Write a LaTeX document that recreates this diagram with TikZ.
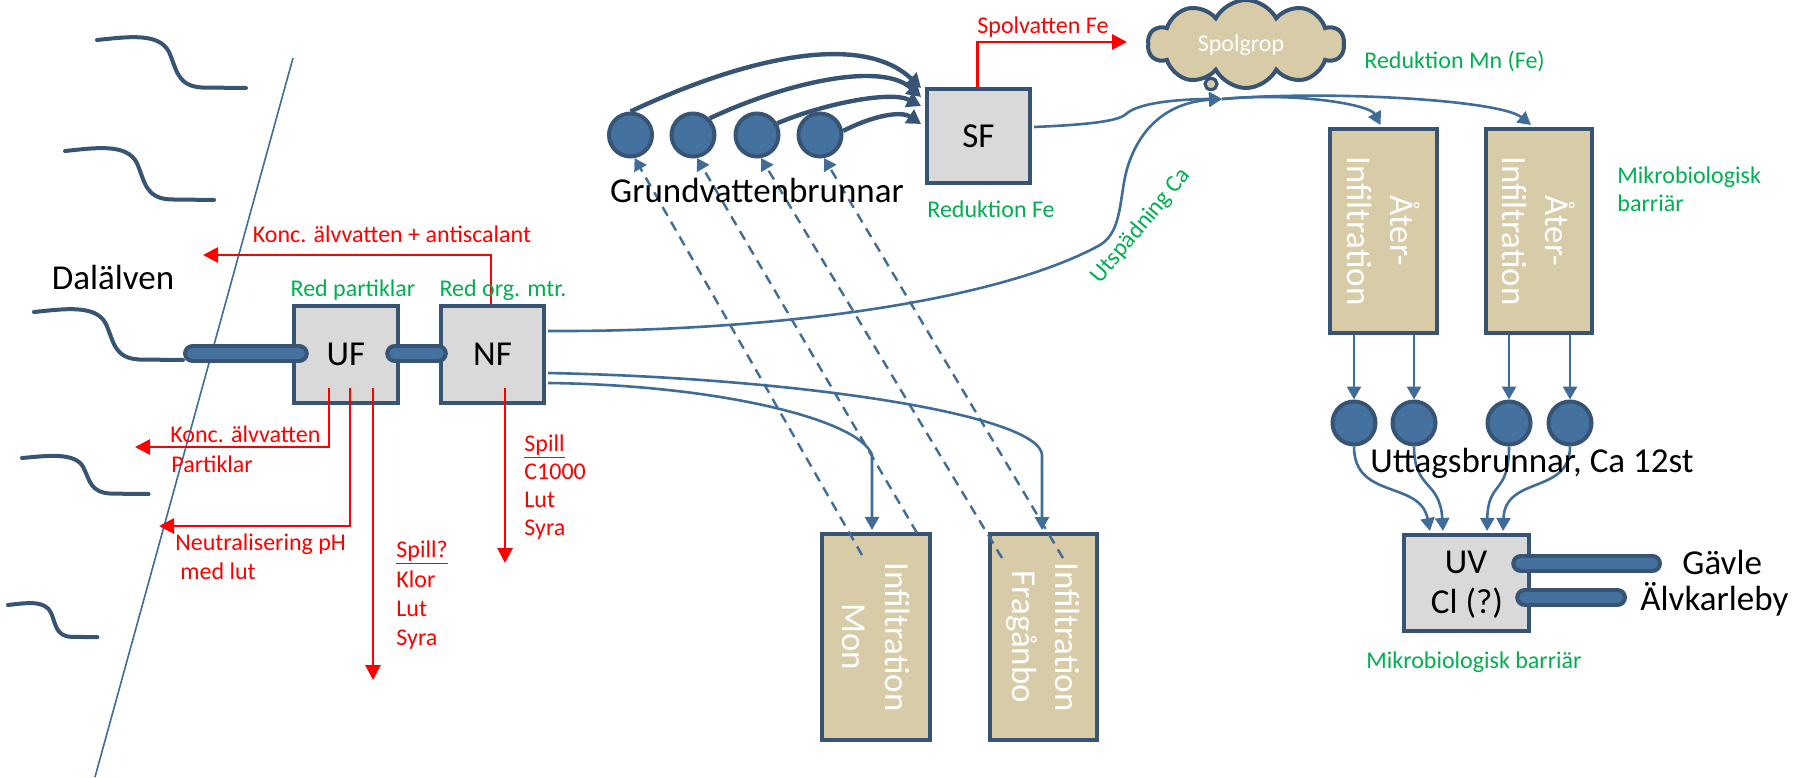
\documentclass[tikz,border=0pt]{standalone}
\usepackage{fontspec}
\setmainfont{Carlito}
\usetikzlibrary{arrows.meta,shapes.symbols,calc}
\definecolor{darkb}{RGB}{56,84,116}
\definecolor{wellfill}{RGB}{68,113,158}
\definecolor{conn}{RGB}{64,108,152}
\definecolor{boxfill}{RGB}{217,217,217}
\definecolor{tanfill}{RGB}{216,203,167}
\definecolor{grn}{RGB}{0,176,80}
\definecolor{rd}{RGB}{255,0,0}
\begin{document}
\begin{tikzpicture}[x=0.5pt,y=-0.5pt,
  box/.style={draw=darkb, line width=2.2pt, fill=boxfill, inner sep=0pt},
  tanbox/.style={draw=darkb, line width=2.2pt, fill=tanfill, inner sep=0pt},
  well/.style={circle, draw=darkb, line width=2pt, fill=wellfill, minimum size=21.5pt, inner sep=0pt},
  big/.style={font=\fontsize{17.5}{21.5}\selectfont, inner sep=0pt},
  small/.style={font=\fontsize{12}{14.5}\selectfont, inner sep=0pt},
  redtxt/.style={small, text=rd},
  grntxt/.style={small, text=grn},
  whitetxt/.style={big, text=white, rotate=-90, align=center},
  wavey/.style={draw=darkb, line width=2pt, line cap=round},
  shore/.style={draw=conn, line width=0.8pt},
  pipe/.style={draw=darkb, line width=2pt, double=wellfill, double distance=5.5pt, line cap=round},
  redflow/.style={draw=rd, line width=1.4pt, -{Triangle[length=7.5pt,width=7.5pt]}},
  thinflow/.style={draw=conn, line width=1.3pt, -{Triangle[length=6.5pt,width=7pt]}},
  thickflow/.style={draw=darkb, line width=2.2pt, -{Triangle[length=7pt,width=8pt]}},
  dashflow/.style={draw=conn, line width=1.2pt, dash pattern=on 5pt off 3.5pt, -{Triangle[length=6pt,width=7pt]}}
]
\fill[white] (0,0) rectangle (1808,777);
\useasboundingbox (0,0) rectangle (1808,777);

% shore line and waves
\coordinate (shT) at (293,58);
\coordinate (shB) at (95,777);
\draw[shore] (shT) -- (shB);
\foreach \sx/\sy/\xs/\ys in {97/40/1/1, 65/151/1/1.02, 34/312/1/1, 22/458/0.85/0.75, 8/605/0.6/0.67}{
  \begin{scope}[shift={(\sx,\sy)}, xscale=\xs, yscale=\ys]
    \draw[wavey] (0,0) .. controls (30,-3) and (62,-8) .. (72,12) .. controls (80,30) and (80,46) .. (105,47.5) -- (149,48);
  \end{scope}
}

% process boxes
\node[box, big, minimum width=51.8pt, minimum height=48.3pt] (UF) at (346,354.5) {UF};
\node[box, big, minimum width=51.3pt, minimum height=48.3pt] (NF) at (492.5,354.5) {NF};
\node[box, big, minimum width=51.3pt, minimum height=46.8pt] (SF) at (978.5,136) {SF};
\node[box, minimum width=62.3pt, minimum height=47.8pt] (UV) at (1466.5,583) {};
\node[big, anchor=base] (UVt) at (1466,573) {UV};
\node[big, anchor=base] (Clt) at (1467,613) {Cl (?)};

% infiltration boxes
\node[tanbox, minimum width=53.8pt, minimum height=102.8pt] (Mon) at (876,637) {};
\node[whitetxt] (Mont) at (Mon) {Infiltration\\Mon};
\node[tanbox, minimum width=53.3pt, minimum height=102.8pt] (Frag) at (1043.5,637) {};
\node[whitetxt] (Fragt) at (Frag) {Infiltration\\Fragånbo};
\node[tanbox, minimum width=53.3pt, minimum height=101.8pt] (At1) at (1383.5,231) {};
\node[whitetxt] (At1t) at (At1) {Åter-\\Infiltration};
\node[tanbox, minimum width=52.8pt, minimum height=101.8pt] (At2) at (1539,231) {};
\node[whitetxt] (At2t) at (At2) {Åter-\\Infiltration};

% wells
\foreach \i/\x in {1/630.5,2/693,3/757,4/820} \node[well] (G\i) at (\x,135) {};
\foreach \i/\x in {1/1354,2/1414,3/1509,4/1570} \node[well] (W\i) at (\x,423) {};

% cloud
\node[cloud, cloud puffs=10, cloud puff arc=125, cloud ignores aspect, draw=darkb, line width=2pt, fill=tanfill, minimum width=98pt, minimum height=44pt, inner sep=0pt] (Spol) at (1246,44) {};
\draw[darkb, line width=1.6pt, fill=tanfill] (1211,84) ellipse [x radius=3pt, y radius=2.8pt];
\node[small, text=white, anchor=base] (Spolt) at (1241,51) {Spolgrop};

% pipes
\coordinate (p1a) at (192.5,353.5);
\draw[pipe] (p1a) -- ($(UF.west)+(7.3,-1)$);
\draw[pipe] ($(UF.east)+(-5.3,-1)$) -- ($(NF.west)+(-0.7,-1)$);
\coordinate (gavE) at (1652.5,563.5);
\coordinate (alvE) at (1617.5,597.5);
\draw[pipe] ($(UV.east)+(-10.3,-19.5)$) -- (gavE);
\draw[pipe] ($(UV.east)+(-6.3,14.5)$) -- (alvE);

% red flows
\coordinate (antiTip) at (203,255);
\coordinate (tipA) at (135,447);
\coordinate (tipB) at (159,526);
\coordinate (tipC) at (373,680);
\coordinate (tipN) at (505,563);
\coordinate (tipS) at (1127,42);
\draw[redflow] ($(NF.north)+(-1.5,0)$) |- (antiTip);
\draw[redflow] ($(UF.center)+(-17,33.5)$) |- (tipA);
\draw[redflow] ($(UF.center)+(4,33.5)$) |- (tipB);
\draw[redflow] ($(UF.center)+(27,33.5)$) -- (tipC);
\draw[redflow] ($(NF.center)+(12.5,33.5)$) -- (tipN);
\draw[redflow] ($(SF.north)+(-1,0)$) |- (tipS);

% thick arrows from groundwater wells
\draw[thickflow] (G1.north) .. controls (740,60) and (860,30) .. ($(SF.west)+(-4,-48)$);
\draw[thickflow] (G2.north east) .. controls (780,85) and (880,60) .. ($(SF.west)+(-4,-39)$);
\draw[thickflow] (G3.30) .. controls (820,105) and (890,90) .. ($(SF.west)+(-4,-30)$);
\draw[thickflow] (G4.10) .. controls (870,117) and (900,110) .. ($(SF.west)+(-4,-12)$);

% dashed returns
\coordinate (d1) at (862,555);
\coordinate (d2) at (917,533);
\coordinate (d3) at (1002,558);
\coordinate (d4) at (1063,558);
\foreach \i in {1,2,3,4} \draw[dashflow] (d\i) -- (G\i.-80);

% thin flows
\coordinate (merge) at (1222,99);
\draw[thinflow] ($(NF.east)+(2,28.5)$) .. controls (720,385) and (860,420) .. (872,455) -- ($(Mon.north)+(-4,-2)$);
\draw[thinflow] ($(NF.east)+(2,18.5)$) .. controls (800,378) and (1040,415) .. (1042,455) -- ($(Frag.north)+(-1.5,-2)$);
\draw[thinflow] ($(NF.east)+(2,-23.5)$) .. controls (780,332) and (1000,300) .. (1100,245) .. controls (1125,230) and (1118,190) .. (1130,160) .. controls (1145,120) and (1175,102) .. (merge);
\draw[thinflow] ($(SF.east)+(2,-9)$) .. controls (1080,125) and (1118,122) .. (1126,114) .. controls (1140,101) and (1190,99) .. (merge);
\draw[thinflow] (merge) .. controls (1300,92) and (1370,105) .. ($(At1.north)+(-3,-2)$);
\draw[thinflow] (merge) .. controls (1330,90) and (1500,100) .. ($(At2.north)+(-8,-2)$);
\foreach \a/\w in {At1/W1,At1/W2,At2/W3,At2/W4} \draw[thinflow] (\a.south -| \w) -- (\w.north);
\draw[thinflow] (W1.south) .. controls (1354,500) and (1420,480) .. ($(UV.north)+(-36.5,-2)$);
\draw[thinflow] (W2.south) .. controls (1414,490) and (1440,480) .. ($(UV.north)+(-23.5,-2)$);
\draw[thinflow] (W3.south) .. controls (1509,495) and (1488,480) .. ($(UV.north)+(20.5,-2)$);
\draw[thinflow] (W4.south) .. controls (1570,495) and (1505,475) .. ($(UV.north)+(36.5,-2)$);

% black labels
\node[big, anchor=base] (Dal) at (113,289) {Dalälven};
\node[big, anchor=base] (Grund) at (757,202) {Grundvattenbrunnar};
\node[big, anchor=base] (Uttag) at (1532,472) {Uttagsbrunnar, Ca 12st};
\node[big, anchor=base west] (Gav) at (1682,574) {Gävle};
\node[big, anchor=base west] (Alv) at (1640,610) {Älvkarleby};

% red labels
\node[redtxt, anchor=base] (antiL) at (392,242) {Konc. älvvatten + antiscalant};
\node[redtxt, anchor=base west] (koncL) at (170,442) {Konc. älvvatten};
\node[redtxt, anchor=base west] (partL) at (171,472) {Partiklar};
\node[redtxt, anchor=base west] (neutL) at (175,550) {Neutralisering pH};
\node[redtxt, anchor=base west] (medL) at (180,579) {med lut};
\node[redtxt, anchor=base west] (sp1) at (396,557) {\underline{Spill?}};
\node[redtxt, anchor=base west] (sp2) at (396,587) {Klor};
\node[redtxt, anchor=base west] (sp3) at (396,616) {Lut};
\node[redtxt, anchor=base west] (sp4) at (396,645) {Syra};
\node[redtxt, anchor=base west] (sn1) at (524,451) {\underline{Spill}};
\node[redtxt, anchor=base west] (sn2) at (524,479) {C1000};
\node[redtxt, anchor=base west] (sn3) at (524,507) {Lut};
\node[redtxt, anchor=base west] (sn4) at (524,535) {Syra};
\node[redtxt, anchor=base west] (spolvL) at (977,33) {Spolvatten Fe};

% green labels
\node[grntxt, anchor=base] (redpL) at (353,296) {Red partiklar};
\node[grntxt, anchor=base] (redoL) at (503,296) {Red org. mtr.};
\node[grntxt, anchor=base west] (redFeL) at (927,217) {Reduktion Fe};
\node[grntxt, anchor=base west] (redMnL) at (1364,68) {Reduktion Mn (Fe)};
\node[grntxt, anchor=base west] (mik1) at (1617,183) {Mikrobiologisk};
\node[grntxt, anchor=base west] (mik2) at (1617,211) {barriär};
\node[grntxt, anchor=base] (mikB) at (1474,668) {Mikrobiologisk barriär};
\node[grntxt, rotate=50] (utsp) at (1141,226) {Utspädning Ca};
\end{tikzpicture}
\end{document}
